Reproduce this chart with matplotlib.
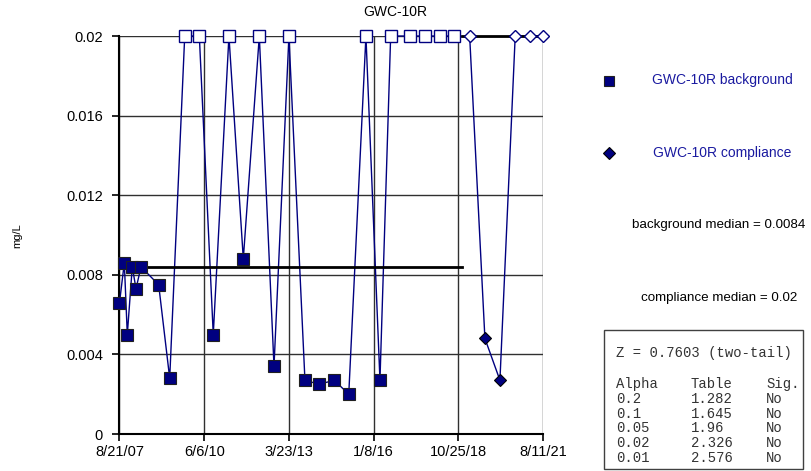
import numpy as np
import matplotlib
matplotlib.use('Agg')
import matplotlib.pyplot as plt
from matplotlib.patches import Rectangle

plt.rcParams['font.family'] = ['Liberation Sans', 'DejaVu Sans']

# 数据：距 8/21/07 的天数，以及浓度 (mg/L)
bg_days = [0, 58, 94, 154, 199, 259, 472, 605, 786, 962, 1130, 1319, 1492, 1685,
           1862, 2042, 2235, 2407, 2588, 2763, 2970, 3139, 3268, 3500, 3678, 3858, 4034]
bg_vals = [0.0066, 0.0086, 0.0050, 0.0084, 0.0073, 0.0084, 0.0075, 0.0028, 0.02, 0.02,
           0.0050, 0.02, 0.0088, 0.02, 0.0034, 0.02, 0.0027, 0.0025, 0.0027, 0.0020,
           0.02, 0.0027, 0.02, 0.02, 0.02, 0.02, 0.02]
cp_days = [4220, 4404, 4585, 4769, 4950, 5104]
cp_vals = [0.02, 0.0048, 0.0027, 0.02, 0.02, 0.02]
nd_limit = 0.02

bg_median = 0.0084
cp_median = 0.02

x_max = 5104
tick_labels = ['8/21/07', '6/6/10', '3/23/13', '1/8/16', '10/25/18', '8/11/21']
y_ticks = [0, 0.004, 0.008, 0.012, 0.016, 0.02]
y_labels = ['0', '0.004', '0.008', '0.012', '0.016', '0.02']

z_line = 'Z = 0.7603 (two-tail)'
alphas = ['0.2', '0.1', '0.05', '0.02', '0.01']
table_vals = ['1.282', '1.645', '1.96', '2.326', '2.576']
sig_vals = ['No', 'No', 'No', 'No', 'No']

W, H = 812, 471
NAVY = '#000080'
TXT_BLUE = '#1a1aa0'


def fx(x):
    return x / W


def fy(y):
    return 1 - y / H


fig = plt.figure(figsize=(W / 100, H / 100), dpi=100)
ax = fig.add_axes([fx(119.5), fy(434), fx(543) - fx(119.5), fy(36) - fy(434)])

x_ticks = np.linspace(0, x_max, len(tick_labels))
ax.set_xlim(0, x_max)
ax.set_ylim(0, 0.02)
ax.set_xticks(x_ticks)
ax.set_xticklabels(tick_labels, fontsize=10.5)
ax.set_yticks(y_ticks)
ax.set_yticklabels(y_labels, fontsize=10.5)
ax.tick_params(direction='out', length=5, width=1.2, color='black')
ax.tick_params(axis='y', pad=7)
ax.tick_params(axis='x', pad=3)
ax.grid(True, color='#303030', linewidth=1.0)
ax.set_axisbelow(True)
for s in ['top', 'right']:
    ax.spines[s].set_visible(False)
for s in ['left', 'bottom']:
    ax.spines[s].set_linewidth(1.5)
    ax.spines[s].set_color('black')

# y 轴标题
fig.text(fx(17), fy(236), 'mg/L', fontsize=8, rotation=90, ha='center', va='center')

# 序列
bg_days_a = np.array(bg_days)
bg_vals_a = np.array(bg_vals)
cp_days_a = np.array(cp_days)
cp_vals_a = np.array(cp_vals)

ax.plot(bg_days_a, bg_vals_a, color=NAVY, linewidth=1, zorder=3, clip_on=False)
ax.plot(cp_days_a, cp_vals_a, color=NAVY, linewidth=1, zorder=3, clip_on=False)

# 中位数线
split = (bg_days[-1] + cp_days[0]) / 2
ax.plot([0, split], [bg_median, bg_median], color='black', linewidth=2, zorder=4)
ax.plot([split, x_max], [cp_median, cp_median], color='black', linewidth=2, zorder=4,
        clip_on=False)

det = bg_vals_a < nd_limit
ax.plot(bg_days_a[det], bg_vals_a[det], 's', ms=8, mfc=NAVY, mec='#202020', mew=0.8,
        zorder=5, clip_on=False, linestyle='none')
ax.plot(bg_days_a[~det], bg_vals_a[~det], 's', ms=8, mfc='white', mec=NAVY, mew=1.0,
        zorder=5, clip_on=False, linestyle='none')
det = cp_vals_a < nd_limit
ax.plot(cp_days_a[det], cp_vals_a[det], 'D', ms=6.5, mfc=NAVY, mec='black', mew=0.8,
        zorder=5, clip_on=False, linestyle='none')
ax.plot(cp_days_a[~det], cp_vals_a[~det], 'D', ms=6.5, mfc='white', mec=NAVY, mew=1.0,
        zorder=5, clip_on=False, linestyle='none')

fig.text(fx(395), fy(12), 'GWC-10R', fontsize=10, ha='center', va='center')

# 图例
fig.lines.append(plt.Line2D([fx(609)], [fy(81)], marker='s', ms=7, mfc=NAVY, mec='#202020',
                            mew=0.8, transform=fig.transFigure, figure=fig))
fig.lines.append(plt.Line2D([fx(609)], [fy(153)], marker='D', ms=6, mfc=NAVY, mec='black',
                            mew=0.8, transform=fig.transFigure, figure=fig))
fig.text(fx(652), fy(80), 'GWC-10R background', fontsize=10, color=TXT_BLUE, va='center')
fig.text(fx(653), fy(153), 'GWC-10R compliance', fontsize=10, color=TXT_BLUE, va='center')
fig.text(fx(632), fy(225), f'background median = {bg_median}', fontsize=9.6, va='center')
fig.text(fx(641), fy(298), f'compliance median = {cp_median}', fontsize=9.6, va='center')

# 检验结果框
fig.patches.append(Rectangle((fx(604), fy(469)), fx(803) - fx(604), fy(330) - fy(469),
                             transform=fig.transFigure, fill=False, edgecolor='#404040',
                             linewidth=1.0, figure=fig))
mono = dict(family=['Liberation Mono', 'DejaVu Sans Mono'], fontsize=10, color='#333333',
            va='center')
fig.text(fx(616), fy(353), z_line, **mono)
row_y = 384
step = 14.75
fig.text(fx(616), fy(row_y), 'Alpha', **mono)
fig.text(fx(691), fy(row_y), 'Table', **mono)
fig.text(fx(766), fy(row_y), 'Sig.', **mono)
for i, (a, t, s) in enumerate(zip(alphas, table_vals, sig_vals)):
    y = row_y + step * (i + 1)
    fig.text(fx(616), fy(y), a, **mono)
    fig.text(fx(691), fy(y), t, **mono)
    fig.text(fx(766), fy(y), s, **mono)

fig.savefig('out.png', dpi=100)
